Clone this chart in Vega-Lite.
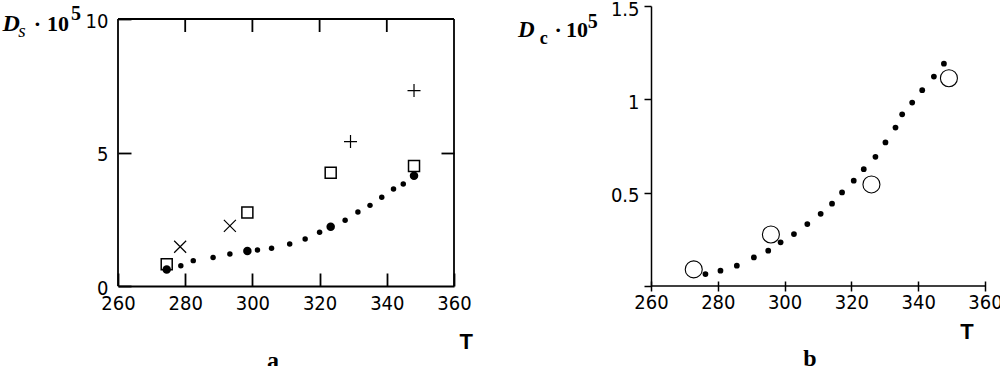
{
  "$schema": "https://vega.github.io/schema/vega-lite/v6.json",
  "padding": {"left": 2, "top": -1, "right": 0, "bottom": 0},
  "background": "white",
  "bounds": "flush",
  "spacing": 197,
  "config": {
    "axis": {"labelFont": "Liberation Sans Narrow, DejaVu Sans Condensed, Liberation Sans, sans-serif", "labelFontSize": 20, "labelColor": "black", "tickColor": "black", "domainColor": "black", "grid": false, "tickWidth": 1.5, "domainWidth": 1.5, "labelAngle": 0, "labelFlush": false},
    "view": {"stroke": null}
  },
  "hconcat": [
    {
      "width": 336, "height": 280,
      "data": {"values": [
        {"T": 348.1, "D": 7.32, "s": "plus"}, {"T": 329.2, "D": 5.41, "s": "plus"},
        {"T": 274.5, "D": 0.81, "s": "square"}, {"T": 298.5, "D": 2.75, "s": "square"}, {"T": 323.3, "D": 4.24, "s": "square"}, {"T": 348.1, "D": 4.49, "s": "square"},
        {"T": 278.5, "D": 1.47, "s": "cross"}, {"T": 293.3, "D": 2.25, "s": "cross"},
        {"T": 274.5, "D": 0.62, "s": "big"}, {"T": 298.5, "D": 1.31, "s": "big"}, {"T": 323.3, "D": 2.22, "s": "big"}, {"T": 348.1, "D": 4.13, "s": "big"},
        {"T": 278.7, "D": 0.76, "s": "dot"}, {"T": 282.4, "D": 0.95, "s": "dot"}, {"T": 288.3, "D": 1.07, "s": "dot"}, {"T": 293.3, "D": 1.2, "s": "dot"}, {"T": 301.5, "D": 1.35, "s": "dot"}, {"T": 305.7, "D": 1.41, "s": "dot"}, {"T": 311.1, "D": 1.57, "s": "dot"}, {"T": 315.7, "D": 1.76, "s": "dot"}, {"T": 320.0, "D": 2.01, "s": "dot"}, {"T": 327.6, "D": 2.46, "s": "dot"}, {"T": 331.4, "D": 2.77, "s": "dot"}, {"T": 335.0, "D": 3.02, "s": "dot"}, {"T": 338.5, "D": 3.32, "s": "dot"}, {"T": 342.0, "D": 3.63, "s": "dot"}, {"T": 344.9, "D": 3.82, "s": "dot"}
      ]},
      "resolve": {"axis": {"x": "independent", "y": "independent"}},
      "layer": [
        {
          "transform": [{"filter": "datum.s == 'dot'"}],
          "mark": {"type": "point", "shape": "circle", "filled": true, "size": 30, "color": "black", "opacity": 1},
          "encoding": {
            "x": {"field": "T", "type": "quantitative", "scale": {"domain": [260, 360], "nice": false, "zero": false},
                  "axis": {"orient": "bottom", "title": null, "values": [260, 280, 300, 320, 340, 360], "tickSize": -13, "tickWidth": 1.8, "labelPadding": 20, "domain": true, "domainWidth": 1.8}},
            "y": {"field": "D", "type": "quantitative", "scale": {"domain": [0, 10.487], "nice": false, "zero": false},
                  "axis": {"orient": "left", "title": null, "values": [0, 5, 10], "labelExpr": "datum.value + ''", "tickSize": -13, "tickWidth": 1.8, "labelPadding": 23, "labelOffset": 2, "domain": false}}
          }
        },
        {
          "transform": [{"filter": "datum.s == 'big'"}],
          "mark": {"type": "point", "shape": "circle", "filled": true, "size": 72, "color": "black", "opacity": 1},
          "encoding": {
            "x": {"field": "T", "type": "quantitative", "axis": null},
            "y": {"field": "D", "type": "quantitative", "axis": {"orient": "right", "title": null, "values": [5], "tickSize": -13, "tickWidth": 1.8, "labels": false, "domain": false}}
          }
        },
        {
          "transform": [{"filter": "datum.s == 'square'"}],
          "mark": {"type": "point", "shape": "square", "filled": false, "size": 121, "color": "black", "strokeWidth": 1.5, "opacity": 1},
          "encoding": {
            "x": {"field": "T", "type": "quantitative", "axis": null},
            "y": {"field": "D", "type": "quantitative", "axis": null}
          }
        },
        {
          "transform": [{"filter": "datum.s == 'cross'"}],
          "mark": {"type": "point", "shape": "M-1,-1L1,1M-1,1L1,-1", "filled": false, "size": 144, "color": "black", "strokeWidth": 1.2, "opacity": 1},
          "encoding": {
            "x": {"field": "T", "type": "quantitative", "axis": null},
            "y": {"field": "D", "type": "quantitative", "axis": null}
          }
        },
        {
          "transform": [{"filter": "datum.s == 'plus'"}],
          "mark": {"type": "point", "shape": "M-1,0L1,0M0,-1L0,1", "filled": false, "size": 169, "color": "black", "strokeWidth": 1.2, "opacity": 1},
          "encoding": {
            "x": {"field": "T", "type": "quantitative", "axis": null},
            "y": {"field": "D", "type": "quantitative", "axis": null}
          }
        },
        {
          "data": {"values": [{}]},
          "mark": {"type": "rule", "color": "black", "strokeWidth": 1.8},
          "encoding": {"x": {"datum": 260, "type": "quantitative", "axis": null}, "y": {"datum": 0, "type": "quantitative", "axis": null}, "y2": {"datum": 10}}
        },
        {
          "data": {"values": [{}]},
          "mark": {"type": "rule", "color": "black", "strokeWidth": 1.8},
          "encoding": {"x": {"datum": 360, "type": "quantitative", "axis": null}, "y": {"datum": 0, "type": "quantitative", "axis": null}, "y2": {"datum": 10}}
        },
        {
          "data": {"values": [{}]},
          "mark": {"type": "rule", "color": "black", "strokeWidth": 1.8},
          "encoding": {"x": {"datum": 260, "type": "quantitative", "axis": null}, "x2": {"datum": 360}, "y": {"datum": 10, "type": "quantitative", "axis": null}}
        },
        {
          "data": {"values": [{"T": 280}, {"T": 300}, {"T": 320}, {"T": 340}]},
          "mark": {"type": "rule", "color": "black", "strokeWidth": 1.8},
          "encoding": {"x": {"field": "T", "type": "quantitative", "axis": null}, "y": {"datum": 10, "type": "quantitative", "axis": null}, "y2": {"datum": 9.513}}
        },
        {
          "data": {"values": [{}]},
          "mark": {"type": "text", "text": "D", "font": "Liberation Serif", "fontSize": 24, "fontWeight": "bold", "fontStyle": "italic", "align": "left", "baseline": "alphabetic", "color": "black"},
          "encoding": {"x": {"datum": 225.6, "type": "quantitative", "axis": null}, "y": {"datum": 9.55, "type": "quantitative", "axis": null}}
        },
        {
          "data": {"values": [{}]},
          "mark": {"type": "text", "text": "s", "font": "Liberation Serif", "fontSize": 19, "fontStyle": "italic", "align": "left", "baseline": "alphabetic", "color": "black"},
          "encoding": {"x": {"datum": 230.3, "type": "quantitative", "axis": null}, "y": {"datum": 9.33, "type": "quantitative", "axis": null}}
        },
        {
          "data": {"values": [{}]},
          "mark": {"type": "text", "text": "·", "font": "Liberation Serif", "fontSize": 22, "fontWeight": "bold", "align": "center", "baseline": "alphabetic", "color": "black"},
          "encoding": {"x": {"datum": 236.0, "type": "quantitative", "axis": null}, "y": {"datum": 9.55, "type": "quantitative", "axis": null}}
        },
        {
          "data": {"values": [{}]},
          "mark": {"type": "text", "text": "10", "font": "Liberation Serif", "fontSize": 22, "fontWeight": "bold", "align": "left", "baseline": "alphabetic", "color": "black"},
          "encoding": {"x": {"datum": 238.9, "type": "quantitative", "axis": null}, "y": {"datum": 9.55, "type": "quantitative", "axis": null}}
        },
        {
          "data": {"values": [{}]},
          "mark": {"type": "text", "text": "5", "font": "Liberation Serif", "fontSize": 20, "fontWeight": "bold", "align": "left", "baseline": "alphabetic", "color": "black"},
          "encoding": {"x": {"datum": 246.0, "type": "quantitative", "axis": null}, "y": {"datum": 9.96, "type": "quantitative", "axis": null}}
        },
        {
          "data": {"values": [{}]},
          "mark": {"type": "text", "text": "T", "font": "Liberation Sans", "fontSize": 22, "fontWeight": "bold", "align": "center", "baseline": "alphabetic", "color": "black"},
          "encoding": {"x": {"datum": 363.6, "type": "quantitative", "axis": null}, "y": {"datum": -2.36, "type": "quantitative", "axis": null}}
        },
        {
          "data": {"values": [{}]},
          "mark": {"type": "text", "text": "a", "font": "Liberation Serif", "fontSize": 24, "fontWeight": "bold", "align": "center", "baseline": "alphabetic", "color": "black"},
          "encoding": {"x": {"datum": 306.1, "type": "quantitative", "axis": null}, "y": {"datum": -3.07, "type": "quantitative", "axis": null}}
        }
      ]
    },
    {
      "width": 334, "height": 280,
      "data": {"values": [
        {"T": 272.8, "D": 0.089, "s": "circle"}, {"T": 295.9, "D": 0.276, "s": "circle"}, {"T": 326.0, "D": 0.544, "s": "circle"}, {"T": 349.2, "D": 1.113, "s": "circle"},
        {"T": 276.3, "D": 0.064, "s": "dot"}, {"T": 280.8, "D": 0.082, "s": "dot"}, {"T": 285.7, "D": 0.109, "s": "dot"}, {"T": 290.8, "D": 0.153, "s": "dot"}, {"T": 295.1, "D": 0.189, "s": "dot"}, {"T": 298.8, "D": 0.234, "s": "dot"}, {"T": 302.8, "D": 0.278, "s": "dot"}, {"T": 306.8, "D": 0.332, "s": "dot"}, {"T": 310.8, "D": 0.387, "s": "dot"}, {"T": 314.2, "D": 0.441, "s": "dot"}, {"T": 317.2, "D": 0.501, "s": "dot"}, {"T": 320.7, "D": 0.564, "s": "dot"}, {"T": 323.7, "D": 0.626, "s": "dot"}, {"T": 327.2, "D": 0.692, "s": "dot"}, {"T": 330.2, "D": 0.769, "s": "dot"}, {"T": 333.2, "D": 0.849, "s": "dot"}, {"T": 335.2, "D": 0.92, "s": "dot"}, {"T": 338.2, "D": 0.983, "s": "dot"}, {"T": 341.2, "D": 1.049, "s": "dot"}, {"T": 344.7, "D": 1.122, "s": "dot"}, {"T": 347.7, "D": 1.191, "s": "dot"}
      ]},
      "resolve": {"axis": {"x": "independent", "y": "independent"}},
      "layer": [
        {
          "transform": [{"filter": "datum.s == 'dot'"}],
          "mark": {"type": "point", "shape": "circle", "filled": true, "size": 33, "color": "black", "opacity": 1},
          "encoding": {
            "x": {"field": "T", "type": "quantitative", "scale": {"domain": [260, 360], "nice": false, "zero": false},
                  "axis": {"orient": "bottom", "title": null, "values": [260, 280, 300, 320, 340, 360], "tickSize": 10, "offset": -5, "labelPadding": 1, "domain": false}},
            "y": {"field": "D", "type": "quantitative", "scale": {"domain": [0, 1.5], "nice": false, "zero": false},
                  "axis": {"orient": "left", "title": null, "values": [0, 0.5, 1, 1.5], "labelExpr": "datum.value == 0 ? '' : datum.value + ''", "tickSize": 7, "labelPadding": 5, "labelOffset": 3, "domain": true}}
          }
        },
        {
          "transform": [{"filter": "datum.s == 'circle'"}],
          "mark": {"type": "point", "shape": "circle", "filled": false, "size": 289, "color": "black", "strokeWidth": 1.1, "opacity": 1},
          "encoding": {
            "x": {"field": "T", "type": "quantitative", "axis": null},
            "y": {"field": "D", "type": "quantitative", "axis": null}
          }
        },
        {
          "data": {"values": [{}]},
          "mark": {"type": "rule", "color": "black", "strokeWidth": 1.5},
          "encoding": {"x": {"datum": 260, "type": "quantitative", "axis": null}, "x2": {"datum": 360}, "y": {"datum": 0, "type": "quantitative", "axis": null}}
        },
        {
          "data": {"values": [{}]},
          "mark": {"type": "text", "text": "D", "font": "Liberation Serif", "fontSize": 23, "fontWeight": "bold", "fontStyle": "italic", "align": "left", "baseline": "alphabetic", "color": "black"},
          "encoding": {"x": {"datum": 220.2, "type": "quantitative", "axis": null}, "y": {"datum": 1.334, "type": "quantitative", "axis": null}}
        },
        {
          "data": {"values": [{}]},
          "mark": {"type": "text", "text": "c", "font": "Liberation Serif", "fontSize": 18, "fontWeight": "bold", "align": "left", "baseline": "alphabetic", "color": "black"},
          "encoding": {"x": {"datum": 226.7, "type": "quantitative", "axis": null}, "y": {"datum": 1.296, "type": "quantitative", "axis": null}}
        },
        {
          "data": {"values": [{}]},
          "mark": {"type": "text", "text": "·", "font": "Liberation Serif", "fontSize": 22, "fontWeight": "bold", "align": "center", "baseline": "alphabetic", "color": "black"},
          "encoding": {"x": {"datum": 232.2, "type": "quantitative", "axis": null}, "y": {"datum": 1.334, "type": "quantitative", "axis": null}}
        },
        {
          "data": {"values": [{}]},
          "mark": {"type": "text", "text": "10", "font": "Liberation Serif", "fontSize": 22, "fontWeight": "bold", "align": "left", "baseline": "alphabetic", "color": "black"},
          "encoding": {"x": {"datum": 234.55, "type": "quantitative", "axis": null}, "y": {"datum": 1.334, "type": "quantitative", "axis": null}}
        },
        {
          "data": {"values": [{}]},
          "mark": {"type": "text", "text": "5", "font": "Liberation Serif", "fontSize": 20, "fontWeight": "bold", "align": "left", "baseline": "alphabetic", "color": "black"},
          "encoding": {"x": {"datum": 241.1, "type": "quantitative", "axis": null}, "y": {"datum": 1.382, "type": "quantitative", "axis": null}}
        },
        {
          "data": {"values": [{}]},
          "mark": {"type": "text", "text": "T", "font": "Liberation Sans", "fontSize": 22, "fontWeight": "bold", "align": "center", "baseline": "alphabetic", "color": "black"},
          "encoding": {"x": {"datum": 354.6, "type": "quantitative", "axis": null}, "y": {"datum": -0.284, "type": "quantitative", "axis": null}}
        },
        {
          "data": {"values": [{}]},
          "mark": {"type": "text", "text": "b", "font": "Liberation Serif", "fontSize": 24, "fontWeight": "bold", "align": "center", "baseline": "alphabetic", "color": "black"},
          "encoding": {"x": {"datum": 307.6, "type": "quantitative", "axis": null}, "y": {"datum": -0.429, "type": "quantitative", "axis": null}}
        }
      ]
    }
  ]
}
